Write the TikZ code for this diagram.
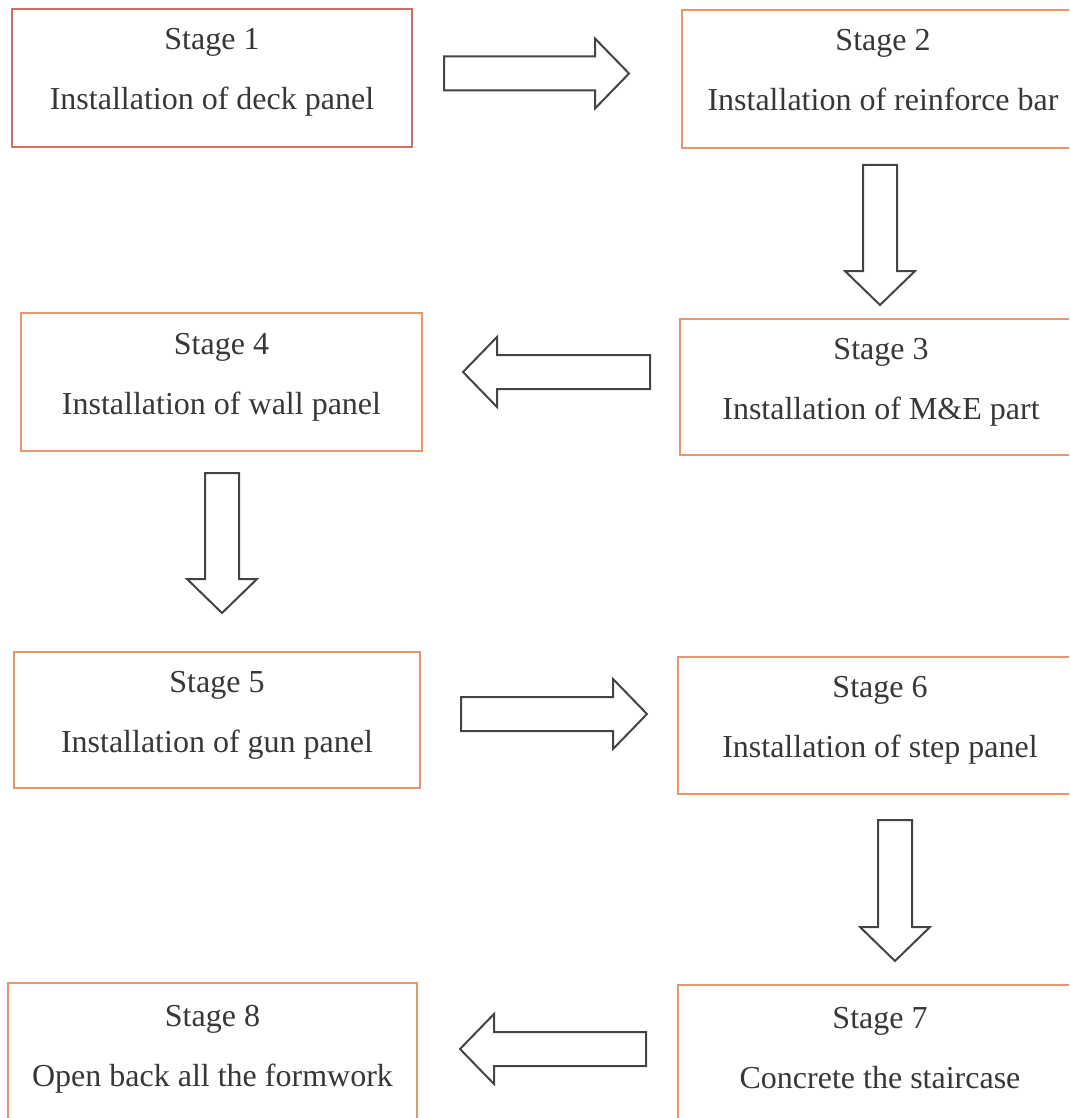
\documentclass[tikz,border=0pt]{standalone}
\usepackage{fontspec}
\setmainfont{Liberation Serif}
\usetikzlibrary{calc}

\definecolor{boxline}{RGB}{230,150,108}
\definecolor{firstline}{RGB}{205,112,100}
\definecolor{arrowline}{RGB}{68,68,68}
\definecolor{textgray}{RGB}{55,55,55}

\begin{document}
\begin{tikzpicture}[x=1pt,y=-1pt,
    fat/.style={draw=arrowline,line width=2pt,fill=white,line join=miter,
      to path={($(\tikztostart)!17pt!90:(\tikztotarget)$)
        -- ($(\tikztotarget)!34pt!(\tikztostart)!17pt!90:(\tikztotarget)$)
        -- ($(\tikztotarget)!34pt!(\tikztostart)!35pt!90:(\tikztotarget)$)
        -- (\tikztotarget)
        -- ($(\tikztotarget)!34pt!(\tikztostart)!35pt!-90:(\tikztotarget)$)
        -- ($(\tikztotarget)!34pt!(\tikztostart)!17pt!-90:(\tikztotarget)$)
        -- ($(\tikztostart)!17pt!-90:(\tikztotarget)$) -- cycle}}]

  \useasboundingbox (0,0) rectangle (1069,1118);
  \clip (0,0) rectangle (1069,1118);

  \begin{scope}[every node/.style={rectangle,draw=boxline,line width=2pt,
        inner sep=0pt,align=center,text=textgray,
        font=\fontsize{32}{60}\selectfont,text height=82pt,text depth=18pt}]
    \node[draw=firstline,minimum width=400pt,minimum height=138pt] (s1) at (212,78) {Stage 1\\Installation of deck panel};
    \node[minimum width=402pt,minimum height=138pt] (s2) at (883,79) {Stage 2\\Installation of reinforce bar};
    \node[minimum width=402pt,minimum height=136pt] (s3) at (881,387) {Stage 3\\Installation of M\&E part};
    \node[minimum width=401pt,minimum height=138pt] (s4) at (221.5,382) {Stage 4\\Installation of wall panel};
    \node[minimum width=406pt,minimum height=136pt] (s5) at (217,720) {Stage 5\\Installation of gun panel};
    \node[minimum width=404pt,minimum height=137pt] (s6) at (880,725.5) {Stage 6\\Installation of step panel};
    \node[minimum width=404pt,minimum height=142pt] (s7) at (880,1056) {Stage 7\\Concrete the staircase};
    \node[minimum width=409pt,minimum height=142pt] (s8) at (212.5,1054) {Stage 8\\Open back all the formwork};
  \end{scope}

  \begin{scope}
    \draw[fat] ([xshift=31pt,yshift=4.5pt]s1.east) to ([xshift=-52pt,yshift=5.5pt]s2.west);
    \draw[fat] ([xshift=-3pt,yshift=-16pt]s2.south) to ([xshift=-1pt,yshift=13pt]s3.north);
    \draw[fat] ([xshift=-29pt,yshift=15pt]s3.west) to ([xshift=40pt,yshift=10pt]s4.east);
    \draw[fat] ([xshift=0.5pt,yshift=-21pt]s4.south) to ([xshift=5pt,yshift=38pt]s5.north);
    \draw[fat] ([xshift=40pt,yshift=6pt]s5.east) to ([xshift=-30pt,yshift=11.5pt]s6.west);
    \draw[fat] ([xshift=15pt,yshift=-25pt]s6.south) to ([xshift=15pt,yshift=23pt]s7.north);
    \draw[fat] ([xshift=-31pt,yshift=7pt]s7.west) to ([xshift=42pt,yshift=5pt]s8.east);
  \end{scope}
\end{tikzpicture}
\end{document}
